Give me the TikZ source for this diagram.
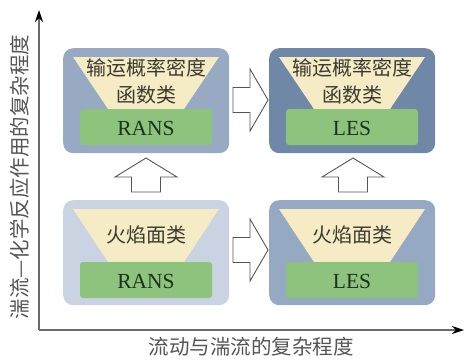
\documentclass[tikz,border=0pt]{standalone}
\usepackage{fontspec}
\setmainfont{Liberation Serif}
\newfontfamily\cjk{Noto Sans CJK SC}
\usetikzlibrary{arrows.meta}
\definecolor{boxTL}{HTML}{97A9C3}
\definecolor{boxTR}{HTML}{7088A8}
\definecolor{boxBL}{HTML}{C9D3E1}
\definecolor{boxBR}{HTML}{96A9C3}
\definecolor{trapc}{HTML}{F5EBC4}
\definecolor{greenc}{HTML}{8EC37E}
\definecolor{cjkc}{HTML}{3C3A30}
\definecolor{latc}{HTML}{1A331D}
\definecolor{arrowc}{HTML}{555555}
\definecolor{axisc}{HTML}{6A6A6A}
\definecolor{axlabc}{HTML}{555555}
\begin{document}
\begin{tikzpicture}[x=1pt,y=-1pt,
  box/.style={rounded corners=10pt, minimum width=166pt, minimum height=105pt, inner sep=0pt, anchor=north west, draw=none},
  trap/.style={fill=trapc},
  greenbox/.style={fill=greenc, rounded corners=3pt, minimum width=132pt, minimum height=36pt, inner sep=0pt},
  cjktext/.style={font=\cjk\fontsize{20}{27}\selectfont, text=cjkc, align=center, inner sep=0pt},
  lattext/.style={font=\fontsize{21.5}{24}\selectfont, text=latc},
  blockarrow/.style={draw=arrowc, fill=white, line width=0.9pt, line join=miter},
  axis/.style={draw=axisc, line width=1.2pt, -{Stealth[length=12pt,width=8pt,color=black]}},
  axlabel/.style={font=\cjk\fontsize{20.5}{24}\selectfont, text=axlabc, inner sep=0pt}
]
\useasboundingbox (0,0) rectangle (465,360);

% axes
\coordinate (O) at (39,330);
\coordinate (Ytop) at (39,10);
\coordinate (Xend) at (464,330);
\draw[axis] (O) -- (Ytop);
\draw[axis] (O) -- (Xend);
\node[axlabel, rotate=90] (ylab) at (20,177) {湍流—化学反应作用的复杂程度};
\node[axlabel] (xlab) at (251,347) {流动与湍流的复杂程度};

% top-left box
\begin{scope}[shift={(63,48)}]
  \node[box, fill=boxTL] (tl) at (0,0) {};
  \fill[trap] (10,9) -- (156,9) -- (121,61) -- (45,61) -- cycle;
  \node[cjktext] (tlt) at (83,33.5) {输运概率密度\\函数类};
  \node[greenbox] (tlg) at (83,79) {};
  \node[lattext] (tll) at (83,80) {RANS};
\end{scope}

% top-right box
\begin{scope}[shift={(269,48)}]
  \node[box, fill=boxTR] (tr) at (0,0) {};
  \fill[trap] (10,9) -- (156,9) -- (121,61) -- (45,61) -- cycle;
  \node[cjktext] (trt) at (83,33.5) {输运概率密度\\函数类};
  \node[greenbox] (trg) at (83,79) {};
  \node[lattext] (trl) at (83,80) {LES};
\end{scope}

% bottom-left box
\begin{scope}[shift={(63,200)}]
  \node[box, fill=boxBL] (bl) at (0,0) {};
  \fill[trap] (10,9) -- (156,9) -- (121,62) -- (45,62) -- cycle;
  \node[cjktext] (blt) at (83,35) {火焰面类};
  \node[greenbox] (blg) at (83,80) {};
  \node[lattext] (bll) at (83,81) {RANS};
\end{scope}

% bottom-right box
\begin{scope}[shift={(269,200)}]
  \node[box, fill=boxBR] (br) at (0,0) {};
  \fill[trap] (10,9) -- (156,9) -- (121,62) -- (45,62) -- cycle;
  \node[cjktext] (brt) at (83,35) {火焰面类};
  \node[greenbox] (brg) at (83,80) {};
  \node[lattext] (brl) at (83,81) {LES};
\end{scope}

% block arrows (right)
\coordinate (ha1) at (233,100);
\coordinate (ha2) at (233,250);
\foreach \c in {ha1,ha2}{
  \draw[blockarrow] (\c) ++(0,-12.5) -- ++(17,0) -- ++(0,-18.5) -- ++(18,31)
     -- ++(-18,31) -- ++(0,-18.5) -- ++(-17,0) -- cycle;
}
% block arrows (up)
\coordinate (va1) at (146,192);
\coordinate (va2) at (353,192);
\foreach \c in {va1,va2}{
  \draw[blockarrow] (\c) ++(-14.5,0) -- ++(0,-15) -- ++(-16.5,0) -- ++(31,-19)
     -- ++(31,19) -- ++(-16.5,0) -- ++(0,15) -- cycle;
}
\end{tikzpicture}
\end{document}
